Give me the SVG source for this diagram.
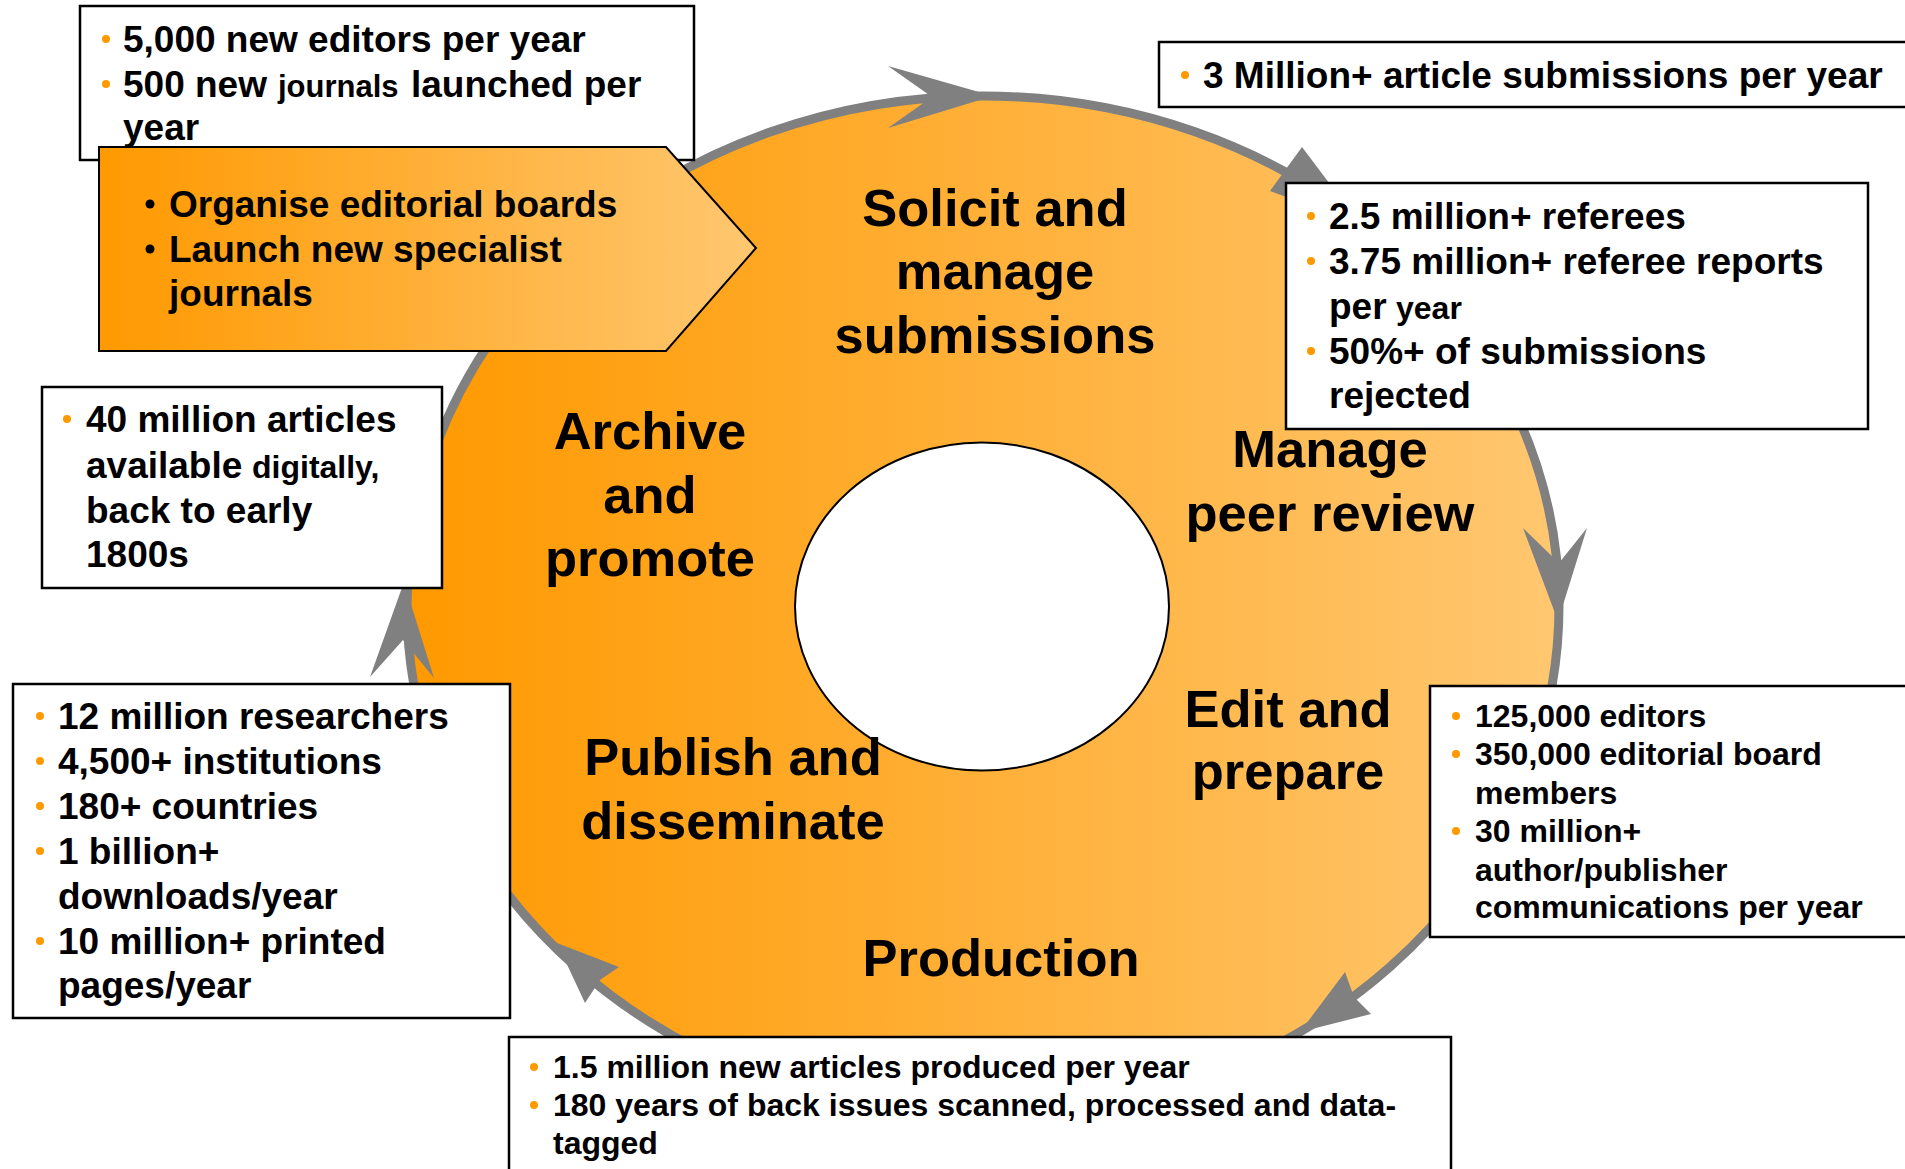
<svg xmlns="http://www.w3.org/2000/svg" width="1905" height="1169" viewBox="0 0 1905 1169">
<defs>
<linearGradient id="gRing" gradientUnits="userSpaceOnUse" x1="407" y1="0" x2="1559" y2="0">
<stop offset="0" stop-color="#FF9900"/>
<stop offset="1" stop-color="#FFC770"/>
</linearGradient>
<linearGradient id="gArrow" gradientUnits="userSpaceOnUse" x1="99" y1="0" x2="756" y2="0">
<stop offset="0" stop-color="#FF9900"/>
<stop offset="1" stop-color="#FFC770"/>
</linearGradient>
<style>
.t{font-family:"Liberation Sans",Arial,sans-serif;font-weight:bold;fill:#000}
.f37{font-size:37px}
.f32{font-size:32px}
.f31{font-size:31px}
.lab{font-size:52.5px;text-anchor:middle}
.box{fill:#fff;stroke:#000;stroke-width:2.5}
.bul{fill:#FF9900}
.ah{fill:#808080}
</style>
</defs>
<rect width="1905" height="1169" fill="#fff"/>

<g id="cycle">
<ellipse cx="983" cy="606" rx="576" ry="510" fill="url(#gRing)"/>
</g>

<g id="connectors">
<ellipse cx="983" cy="606" rx="576" ry="510" fill="none" stroke="#808080" stroke-width="9"/>
<polygon class="ah" points="993,96 888,66 932,97 888,128"/>
<polygon class="ah" points="1360,224 1302,147 1270,191"/>
<polygon class="ah" points="1558,621 1523,528 1559,563 1587,528"/>
<polygon class="ah" points="1300,1032 1345,972 1354,997 1371,1014"/>
<polygon class="ah" points="557,943 619,967 600,980 585,1003"/>
<polygon class="ah" points="404,582 434,678 403,640 370,677"/>
</g>

<g id="hub">
<ellipse cx="982" cy="606.5" rx="187" ry="164" fill="#fff" stroke="#000" stroke-width="2"/>
</g>

<g id="stage-solicit">
<text class="t lab" x="995" y="226">Solicit and</text>
<text class="t lab" x="995" y="289">manage</text>
<text class="t lab" x="995" y="353">submissions</text>
</g>
<g id="stage-peer-review">
<text class="t lab" x="1330" y="467">Manage</text>
<text class="t lab" x="1330" y="531">peer review</text>
</g>
<g id="stage-edit">
<text class="t lab" x="1288" y="727">Edit and</text>
<text class="t lab" x="1288" y="789">prepare</text>
</g>
<g id="stage-production">
<text class="t lab" x="1001" y="976">Production</text>
</g>
<g id="stage-publish">
<text class="t lab" x="733" y="775">Publish and</text>
<text class="t lab" x="733" y="839">disseminate</text>
</g>
<g id="stage-archive">
<text class="t lab" x="650" y="449">Archive</text>
<text class="t lab" x="650" y="513">and</text>
<text class="t lab" x="650" y="576">promote</text>
</g>

<g id="box-editors">
<rect class="box" x="80" y="6" width="614" height="154"/>
<circle class="bul" cx="106" cy="39" r="4"/>
<text class="t f37" x="123" y="52">5,000 new editors per year</text>
<circle class="bul" cx="106" cy="84" r="4"/>
<text class="t f37" x="123" y="97">500 new</text>
<text class="t f31" x="278" y="97">journals</text>
<text class="t f37" x="411" y="97">launched per</text>
<text class="t f37" x="123" y="140">year</text>
</g>

<g id="launch-arrow">
<polygon points="99,147 666,147 756,248 666,351 99,351" fill="url(#gArrow)" stroke="#000" stroke-width="2"/>
<circle cx="150" cy="204" r="4.5" fill="#000"/>
<text class="t f37" x="169" y="217">Organise editorial boards</text>
<circle cx="150" cy="249" r="4.5" fill="#000"/>
<text class="t f37" x="169" y="262">Launch new specialist</text>
<text class="t f37" x="169" y="306">journals</text>
</g>

<g id="box-submissions">
<rect class="box" x="1159" y="42" width="760" height="65"/>
<circle class="bul" cx="1185" cy="75" r="4"/>
<text class="t f37" x="1203" y="88">3 Million+ article submissions per year</text>
</g>

<g id="box-referees">
<rect class="box" x="1286" y="183" width="582" height="246"/>
<circle class="bul" cx="1311" cy="216" r="4"/>
<text class="t f37" x="1329" y="229">2.5 million+ referees</text>
<circle class="bul" cx="1311" cy="261" r="4"/>
<text class="t f37" x="1329" y="274">3.75 million+ referee reports</text>
<text class="t f37" x="1329" y="319">per</text>
<text class="t f32" x="1396" y="319">year</text>
<circle class="bul" cx="1311" cy="351" r="4"/>
<text class="t f37" x="1329" y="364">50%+ of submissions</text>
<text class="t f37" x="1329" y="408">rejected</text>
</g>

<g id="box-archive">
<rect class="box" x="42" y="387" width="400" height="201"/>
<circle class="bul" cx="67" cy="419" r="4"/>
<text class="t f37" x="86" y="432">40 million articles</text>
<text class="t f37" x="86" y="478">available</text>
<text class="t f32" x="252" y="478">digitally,</text>
<text class="t f37" x="86" y="523">back to early</text>
<text class="t f37" x="86" y="567">1800s</text>
</g>

<g id="box-researchers">
<rect class="box" x="13" y="684" width="497" height="334"/>
<circle class="bul" cx="40" cy="716" r="4"/>
<text class="t f37" x="58" y="729">12 million researchers</text>
<circle class="bul" cx="40" cy="761" r="4"/>
<text class="t f37" x="58" y="774">4,500+ institutions</text>
<circle class="bul" cx="40" cy="806" r="4"/>
<text class="t f37" x="58" y="819">180+ countries</text>
<circle class="bul" cx="40" cy="851" r="4"/>
<text class="t f37" x="58" y="864">1 billion+</text>
<text class="t f37" x="58" y="909">downloads/year</text>
<circle class="bul" cx="40" cy="941" r="4"/>
<text class="t f37" x="58" y="954">10 million+ printed</text>
<text class="t f37" x="58" y="998">pages/year</text>
</g>

<g id="box-editing">
<rect class="box" x="1430" y="686" width="490" height="251"/>
<circle class="bul" cx="1456" cy="716" r="4"/>
<text class="t f32" x="1475" y="727">125,000 editors</text>
<circle class="bul" cx="1456" cy="754" r="4"/>
<text class="t f32" x="1475" y="765">350,000 editorial board</text>
<text class="t f32" x="1475" y="804">members</text>
<circle class="bul" cx="1456" cy="831" r="4"/>
<text class="t f32" x="1475" y="842">30 million+</text>
<text class="t f32" x="1475" y="881">author/publisher</text>
<text class="t f32" x="1475" y="918">communications per year</text>
</g>

<g id="box-production">
<rect class="box" x="509" y="1037" width="942" height="150"/>
<circle class="bul" cx="534" cy="1067" r="4"/>
<text class="t f32" x="553" y="1078">1.5 million new articles produced per year</text>
<circle class="bul" cx="534" cy="1105" r="4"/>
<text class="t f32" x="553" y="1116">180 years of back issues scanned, processed and data-</text>
<text class="t f32" x="553" y="1154">tagged</text>
</g>
</svg>
